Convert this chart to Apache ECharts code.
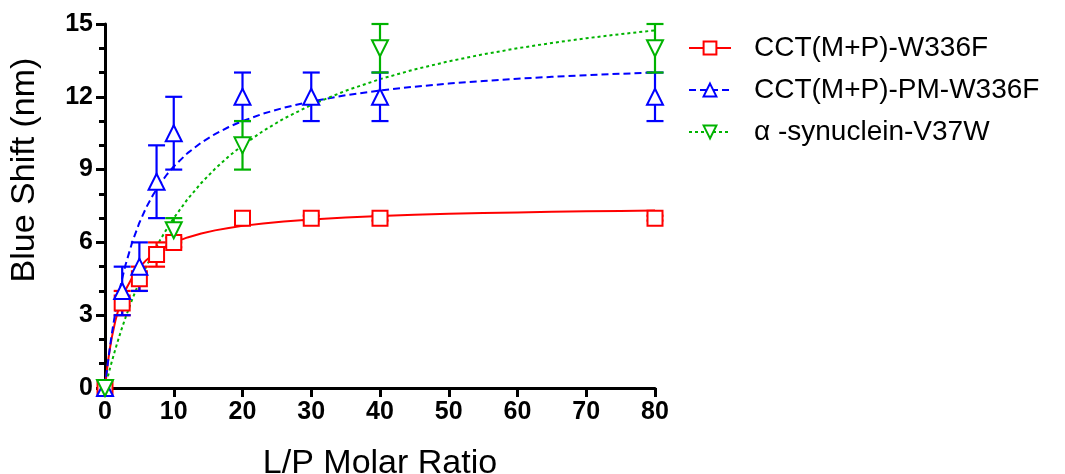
<!DOCTYPE html>
<html>
<head>
<meta charset="utf-8">
<script src="https://cdn.jsdelivr.net/npm/echarts@6/dist/echarts.min.js"></script>
<style>html,body{margin:0;padding:0;background:#fff}#c{width:1065px;height:474px}</style>
</head>
<body>
<div id="c"></div>
<script>
// ---- data ----
const seriesNames = ['CCT(M+P)-W336F', 'CCT(M+P)-PM-W336F', 'α -synuclein-V37W'];

// measured points: [x, y, errorHalfWidth]
const redPoints = [[0,0,0],[2.5,3.5,0.5],[5,4.5,0.5],[7.5,5.5,0.5],[10,6,0.2],[20,7,0.1],[30,7,0.1],[40,7,0.1],[80,7,0.1]];
const bluePoints = [[0,0,0],[2.5,4,1],[5,5,1],[7.5,8.5,1.5],[10,10.5,1.5],[20,12,1],[30,12,1],[40,12,1],[80,12,1]];
const greenPoints = [[0,0,0],[10,6.5,0.5],[20,10,1],[40,14,1],[80,14,1]];

// fitted curves
const curveX = [0, 0.25, 0.5, 0.75, 1, 1.5, 2, 2.5, 3, 4, 5, 6, 7, 8, 9, 10, 12, 14, 16, 18, 20, 23, 26, 30, 35, 40, 45, 50, 55, 60, 65, 70, 75, 80];
const redCurve = [0, 0.662, 1.218, 1.690, 2.097, 2.762, 3.283, 3.701, 4.045, 4.576, 4.967, 5.267, 5.505, 5.698, 5.858, 5.992, 6.205, 6.367, 6.495, 6.597, 6.681, 6.783, 6.864, 6.948, 7.028, 7.089, 7.138, 7.177, 7.209, 7.236, 7.260, 7.280, 7.297, 7.312];
const blueCurve = [0, 0.640, 1.223, 1.756, 2.247, 3.117, 3.866, 4.517, 5.088, 6.044, 6.811, 7.441, 7.967, 8.413, 8.797, 9.129, 9.678, 10.113, 10.465, 10.756, 11.002, 11.304, 11.548, 11.809, 12.062, 12.259, 12.416, 12.546, 12.653, 12.744, 12.822, 12.889, 12.949, 13.001];
const greenCurve = [0, 0.287, 0.565, 0.833, 1.094, 1.591, 2.059, 2.5, 2.917, 3.684, 4.375, 5.0, 5.568, 6.087, 6.563, 7.0, 7.778, 8.448, 9.032, 9.545, 10.0, 10.592, 11.098, 11.667, 12.25, 12.727, 13.125, 13.462, 13.75, 14.0, 14.219, 14.412, 14.583, 14.737];

const xTicks = [0, 10, 20, 30, 40, 50, 60, 70, 80];
const yTicks = [0, 3, 6, 9, 12, 15];

// ---- styles ----
const colors = ['#ff0000', '#0000ff', '#00b300'];
const FONT = '"Liberation Sans", Arial, sans-serif';

function curveData(ys) { return curveX.map((x, i) => [x, ys[i]]); }

function errorSeries(points, color) {
  return {
    type: 'custom',
    z: 3,
    silent: true,
    data: points.filter(p => p[2] > 0).map(p => [p[0], p[1] - p[2], p[1] + p[2]]),
    encode: { x: 0, y: [1, 2] },
    renderItem: function (params, api) {
      const x = api.value(0);
      const lo = api.coord([x, api.value(1)]);
      const hi = api.coord([x, api.value(2)]);
      const hw = 8.5;
      const st = { stroke: color, lineWidth: 2.2, fill: null };
      return {
        type: 'group',
        children: [
          { type: 'line', shape: { x1: lo[0], y1: lo[1], x2: hi[0], y2: hi[1] }, style: st },
          { type: 'line', shape: { x1: lo[0] - hw, y1: lo[1], x2: lo[0] + hw, y2: lo[1] }, style: st },
          { type: 'line', shape: { x1: hi[0] - hw, y1: hi[1], x2: hi[0] + hw, y2: hi[1] }, style: st }
        ]
      };
    }
  };
}

function markerSeries(points, color, symbol, rotate, size) {
  return {
    type: 'scatter',
    z: 5,
    silent: true,
    symbol: symbol,
    symbolRotate: rotate,
    symbolSize: size,
    data: points.map(p => [p[0], p[1]]),
    itemStyle: { color: '#ffffff', borderColor: color, borderWidth: 2, opacity: 1 }
  };
}

function curveSeries(name, ys, color, type, symbol, rotate) {
  return {
    name: name,
    type: 'line',
    z: 2,
    silent: true,
    smooth: false,
    showSymbol: false,
    symbol: symbol,
    symbolRotate: rotate,
    symbolSize: 14,
    data: curveData(ys),
    lineStyle: { color: color, width: 2, type: type },
    itemStyle: { color: '#ffffff', borderColor: color, borderWidth: 2 }
  };
}

const option = {
  animation: false,
  backgroundColor: '#ffffff',
  grid: { left: 105, right: 410, top: 24, bottom: 86, containLabel: false, outerBoundsMode: 'none' },
  legend: {
    left: 683, top: 29, orient: 'vertical',
    data: seriesNames,
    itemWidth: 42, itemHeight: 16, itemGap: 14,
    textStyle: { fontFamily: FONT, fontSize: 28, color: '#000', padding: [0, 0, 0, 18] },
    selectedMode: false
  },
  xAxis: {
    type: 'value', min: 0, max: 80, interval: 10,
    name: 'L/P Molar Ratio', nameLocation: 'middle', nameGap: 59,
    nameTextStyle: { fontFamily: FONT, fontSize: 34, color: '#000' },
    axisLine: { lineStyle: { color: '#000', width: 3 } },
    axisTick: { show: true, length: 9, lineStyle: { color: '#000', width: 3 } },
    axisLabel: { fontFamily: FONT, fontWeight: 'bold', fontSize: 25, color: '#000', margin: 12,
      formatter: v => xTicks.indexOf(v) >= 0 ? String(v) : '' },
    splitLine: { show: false }
  },
  yAxis: {
    type: 'value', min: 0, max: 15, interval: 3,
    name: 'Blue Shift (nm)', nameLocation: 'middle', nameGap: 63,
    nameTextStyle: { fontFamily: FONT, fontSize: 34, color: '#000', padding: [0, 0, 0, 72] },
    axisLine: { lineStyle: { color: '#000', width: 3 } },
    axisTick: { show: true, length: 9, lineStyle: { color: '#000', width: 3 } },
    minorTick: { show: true, splitNumber: 3, length: 6, lineStyle: { color: '#000', width: 3 } },
    axisLabel: { fontFamily: FONT, fontWeight: 'bold', fontSize: 25, color: '#000', margin: 12,
      formatter: v => yTicks.indexOf(v) >= 0 ? String(v) : '' },
    splitLine: { show: false }
  },
  series: [
    curveSeries(seriesNames[0], redCurve, colors[0], 'solid', 'rect', 0),
    curveSeries(seriesNames[1], blueCurve, colors[1], [7, 4], 'triangle', 0),
    curveSeries(seriesNames[2], greenCurve, colors[2], [3, 3], 'triangle', 180),
    errorSeries(redPoints, colors[0]),
    errorSeries(bluePoints, colors[1]),
    errorSeries(greenPoints, colors[2]),
    markerSeries(redPoints, colors[0], 'rect', 0, 15),
    markerSeries(bluePoints, colors[1], 'triangle', 0, 16),
    markerSeries(greenPoints, colors[2], 'triangle', 180, 16)
  ]
};

const chart = echarts.init(document.getElementById('c'), null, { renderer: 'canvas' });
chart.setOption(option);
</script>
</body>
</html>
